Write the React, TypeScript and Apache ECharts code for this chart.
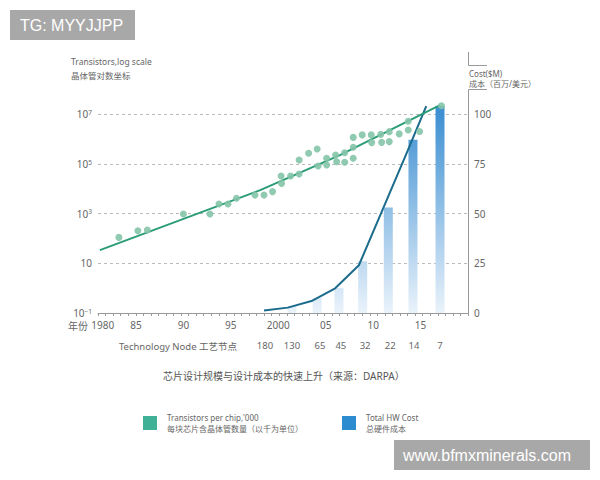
import React, { useEffect, useRef } from 'react';
import * as echarts from 'echarts';

// ---- tick labels ----
const yearTicks = [1980, 1985, 1990, 1995, 2000, 2005, 2010, 2015];
const yearTickText = ['1980', '85', '90', '95', '2000', '05', '10', '15'];
const nodeYears = [1998.6, 2001.45, 2004.4, 2006.6, 2009.15, 2011.8, 2014.3, 2017.05];
const nodeNames = ['180', '130', '65', '45', '32', '22', '14', '7'];

// ---- transistors per chip ('000), log10 ----
const transistorYears = [1983.2, 1985.2, 1986.2, 1990.0, 1992.8, 1993.75, 1994.7, 1995.6, 1997.55, 1998.5, 1999.4, 2000.3, 2000.35, 2001.3, 2002.2, 2002.2, 2003.2, 2004.1, 2004.2, 2005.1, 2005.1, 2006.05, 2006.15, 2007.0, 2007.0, 2007.9, 2007.9, 2007.9, 2008.85, 2009.8, 2009.85, 2010.8, 2010.9, 2011.7, 2011.7, 2012.75, 2013.7, 2013.7, 2014.9, 2017.2];
const transistorLog10 = [2.04, 2.31, 2.34, 2.98, 2.98, 3.38, 3.38, 3.61, 3.74, 3.74, 3.88, 4.51, 4.21, 4.51, 4.59, 5.15, 5.42, 5.59, 4.91, 5.22, 4.95, 5.35, 5.08, 5.44, 5.06, 5.22, 5.66, 6.06, 6.16, 6.16, 5.85, 6.18, 5.86, 6.29, 5.89, 6.2, 6.71, 6.36, 6.3, 7.33];

// ---- trend line ----
const trendYears = [1981.2, 1998.1, 2006.5, 2017.05];
const trendLog10 = [1.53, 3.94, 5.35, 7.36];

// ---- cost ($M) ----
const costYears = [1998.5, 2001, 2003.5, 2006, 2008.5, 2011, 2013.5, 2015.6];
const costValues = [1.2, 2.7, 6, 12.4, 24, 52, 80, 104];
const barYears = [2001.45, 2004.1, 2006.4, 2008.9, 2011.6, 2014.2, 2017.05];
const barCosts = [3.5, 7.5, 12.5, 26, 53, 87, 104];

const X_MIN = 1981;
const X_MAX = 2020;
const TICK_COUNT = 49;
const FF = "'Noto Sans', 'Noto Sans CJK SC', sans-serif";
const WF = "'Liberation Sans', Arial, sans-serif";
const LEG1 = "Transistors per chip,'000\n每块芯片含晶体管数量（以千为单位）";
const LEG2 = 'Total HW Cost\n总硬件成本';

export default function App() {
  const ref = useRef<HTMLDivElement>(null);
  useEffect(() => {
    document.body.style.margin = '0';
    const chart = echarts.init(ref.current!, null, { renderer: 'svg' });
    const yearPos = yearTicks.map((y) => Math.max(y, X_MIN + 0.5));
    const yearLabelOf = (v: number) => {
      const i = yearPos.findIndex((p) => Math.abs(p - v) < 1e-6);
      return i >= 0 ? yearTickText[i] : '';
    };
    const nodeLabelOf = (v: number) => {
      const i = nodeYears.findIndex((p) => Math.abs(p - v) < 1e-6);
      return i >= 0 ? nodeNames[i] : '';
    };

    const barGradient = new echarts.graphic.LinearGradient(0, 114, 0, 313, [
      { offset: 0, color: '#3f90d2' },
      { offset: 1, color: '#eaf3fb' },
    ], true);

    const legendText = { fontSize: 8, lineHeight: 11, color: '#666', fontFamily: FF, padding: [0, 0, 0, 5] };

    const option: any = {
      animation: false,
      backgroundColor: '#ffffff',
      textStyle: { fontFamily: FF },
      grid: { left: 98, right: 132, top: 114, bottom: 167, containLabel: false },
      title: {
        text: '芯片设计规模与设计成本的快速上升（来源：DARPA）',
        left: 163,
        top: 371,
        padding: 0,
        textStyle: { fontSize: 10, fontWeight: 'normal', color: '#555', fontFamily: FF },
      },
      legend: [
        {
          left: 143, top: 412, padding: 0, itemWidth: 14, itemHeight: 14, selectedMode: false,
          data: [{ name: LEG1, icon: 'rect', itemStyle: { color: '#2aa98b' } }],
          textStyle: legendText,
        },
        {
          left: 342, top: 412, padding: 0, itemWidth: 14, itemHeight: 14, selectedMode: false,
          data: [{ name: LEG2, icon: 'rect', itemStyle: { color: '#2d8bd0' } }],
          textStyle: legendText,
        },
      ],
      xAxis: [
        {
          type: 'value', min: X_MIN, max: X_MAX, position: 'bottom',
          axisLine: { show: true, onZero: false, lineStyle: { color: '#999', width: 1 } },
          axisTick: { show: false },
          axisLabel: { color: '#666', fontSize: 10, margin: 7, customValues: yearPos, formatter: yearLabelOf, fontFamily: FF },
          splitLine: { show: false },
        },
        {
          type: 'value', min: X_MIN, max: X_MAX, position: 'bottom', offset: 21,
          axisLine: { show: false, onZero: false }, axisTick: { show: false },
          axisLabel: { color: '#666', fontSize: 9.5, margin: 7, customValues: nodeYears, formatter: nodeLabelOf, fontFamily: FF },
          splitLine: { show: false },
        },
        {
          type: 'value', min: 0, max: TICK_COUNT, interval: 1, position: 'bottom',
          axisLine: { show: false, onZero: false },
          axisTick: { show: true, length: 3, lineStyle: { color: '#999', width: 1 } },
          axisLabel: { show: false },
          splitLine: { show: false },
        },
      ],
      yAxis: [
        {
          type: 'value', min: -1, max: 7, interval: 2, position: 'left',
          axisLine: { show: false, onZero: false }, axisTick: { show: false },
          splitLine: { show: true, lineStyle: { color: '#bbb', type: [3, 3], width: 1 } },
          axisLabel: {
            color: '#666', fontSize: 10, margin: 6, fontFamily: FF,
            formatter: (v: number) => (v === 1 ? '10' : `10{s|${v < 0 ? '−' + Math.abs(v) : v}}`),
            rich: { s: { fontSize: 6.5, verticalAlign: 'top', lineHeight: 8, color: '#666', fontFamily: FF } },
          },
        },
        {
          type: 'value', min: 0, max: 100, interval: 25, position: 'right',
          name: 'Cost($M)\n成本（百万/美元）', nameLocation: 'end', nameGap: 26,
          nameTextStyle: { color: '#666', fontSize: 8, lineHeight: 10, align: 'left', verticalAlign: 'bottom', fontFamily: FF, padding: [0, 0, 0, 1] },
          axisLine: { show: true, onZero: false, lineStyle: { color: '#999', width: 1 } },
          axisTick: { show: false },
          splitLine: { show: false },
          axisLabel: { color: '#666', fontSize: 10, margin: 6, fontFamily: FF },
        },
      ],
      series: [
        {
          name: LEG2, type: 'bar', xAxisIndex: 0, yAxisIndex: 1, barWidth: 9, clip: false, z: 1,
          itemStyle: { color: barGradient },
          data: barYears.map((y, i) => [y, barCosts[i]]),
        },
        {
          name: 'cost line', type: 'line', xAxisIndex: 0, yAxisIndex: 1, symbol: 'none', clip: false, z: 3,
          lineStyle: { color: '#1b6b8c', width: 2 }, itemStyle: { color: '#1b6b8c' },
          data: costYears.map((y, i) => [y, costValues[i]]),
        },
        {
          name: 'trend', type: 'line', xAxisIndex: 0, yAxisIndex: 0, symbol: 'none', clip: false, z: 3,
          lineStyle: { color: '#2a9d77', width: 2 }, itemStyle: { color: '#2a9d77' },
          data: trendYears.map((y, i) => [y, trendLog10[i]]),
        },
        {
          name: LEG1, type: 'scatter', xAxisIndex: 0, yAxisIndex: 0, symbolSize: 7, clip: false, z: 4,
          itemStyle: { color: '#84c4a8', opacity: 0.9 },
          data: transistorYears.map((y, i) => [y, transistorLog10[i]]),
        },
      ],
      graphic: [
        { type: 'rect', shape: { x: 10, y: 10, width: 125, height: 30 }, style: { fill: '#a8a8a8' } },
        { type: 'text', x: 20, y: 25, style: { text: 'TG: MYYJJPP', fill: '#ffffff', fontSize: 16, fontFamily: WF, verticalAlign: 'middle', align: 'left' } },
        { type: 'rect', shape: { x: 394, y: 440, width: 196, height: 30 }, style: { fill: '#a8a8a8' } },
        { type: 'text', x: 403, y: 455, style: { text: 'www.bfmxminerals.com', fill: '#ffffff', fontSize: 16, fontFamily: WF, verticalAlign: 'middle', align: 'left' } },
        { type: 'text', x: 71, y: 54, style: { text: 'Transistors,log scale\n晶体管对数坐标', fill: '#666', fontSize: 8.5, lineHeight: 14, fontFamily: FF, verticalAlign: 'top', align: 'left' } },
        { type: 'text', x: 88, y: 326, style: { text: '年份', fill: '#666', fontSize: 10, fontFamily: FF, verticalAlign: 'middle', align: 'right' } },
        { type: 'text', x: 237, y: 346, style: { text: 'Technology Node 工艺节点', fill: '#666', fontSize: 9.5, fontFamily: FF, verticalAlign: 'middle', align: 'right' } },
        { type: 'polyline', shape: { points: [[468.5, 52], [468.5, 65.5], [487, 65.5]] }, style: { stroke: '#999', lineWidth: 1, fill: null } },
        { type: 'polyline', shape: { points: [[487, 89.5], [468.5, 89.5], [468.5, 114]] }, style: { stroke: '#999', lineWidth: 1, fill: null } },
      ],
    };
    chart.setOption(option);
    return () => chart.dispose();
  }, []);
  return <div ref={ref} style={{ width: 600, height: 480 }} />;
}
